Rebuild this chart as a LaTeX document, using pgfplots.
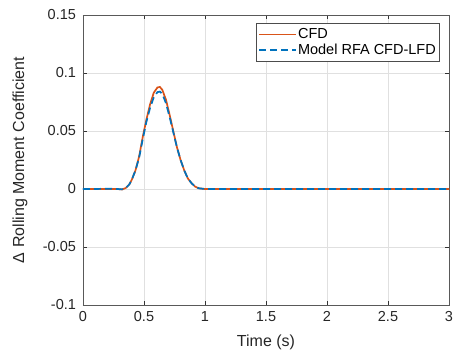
\documentclass[border=0pt]{standalone}
\usepackage{pgfplots}
\pgfplotsset{compat=1.18}
\usepackage{fontspec}
\setmainfont{Liberation Sans}
\definecolor{mlorange}{rgb}{0.850,0.325,0.098}
\definecolor{mlblue}{rgb}{0.000,0.447,0.741}
\begin{document}
\fontsize{14.5}{17}\selectfont
\begin{tikzpicture}
\begin{axis}[
  at={(0,0)}, anchor=south west,
  scale only axis, width=366pt, height=290pt,
  xmin=0, xmax=3, ymin=-0.1, ymax=0.15,
  xtick={0,0.5,...,3}, ytick={-0.1,-0.05,0,0.05,0.1,0.15},
  yticklabels={-0.1,-0.05,0,0.05,0.1,0.15},
  xticklabels={0,0.5,1,1.5,2,2.5,3},
  /pgf/number format/assume math mode=true,
  tick align=inside, tick pos=both,
  major tick length=4pt,
  axis line style={draw=black!65, line width=0.7pt},
  tick style={draw=black!80, line width=0.7pt},
  grid=major, grid style={draw=black!12, line width=0.7pt},
  ticklabel style={font=\fontsize{14.5}{17}\selectfont, text=black!85},
  xticklabel style={yshift=-1pt},
  yticklabel style={xshift=-2pt},
  xlabel={Time (s)}, ylabel={Δ Rolling Moment Coefficient},
  label style={font=\fontsize{16}{19}\selectfont, text=black!85},
  xlabel style={at={(axis description cs:0.5,-0.1276)}, anchor=center},
  ylabel style={at={(axis description cs:-0.172,0.5)}, anchor=center},
  legend style={at={(0.9727,0.972)}, anchor=north east, draw=black!70,
    font=\fontsize{14.5}{17}\selectfont, row sep=-1pt, inner xsep=2pt, inner ysep=3pt,
    nodes={inner xsep=1pt}},
  legend cell align=left,
  legend image code/.code={\draw[#1, line width=1.8pt] plot coordinates {(0pt,0pt) (18pt,0pt) (37pt,0pt)};},
]
\addplot[mlorange, line width=1.7pt] coordinates {
(0,0) (0.1,0) (0.2,0) (0.28,0) (0.32,-0.0004) (0.35,0.0008) (0.38,0.004) (0.40,0.008)
(0.43,0.016) (0.46,0.028) (0.49,0.045) (0.52,0.060) (0.55,0.073) (0.58,0.083)
(0.61,0.0875) (0.63,0.088) (0.65,0.0855) (0.68,0.077) (0.71,0.064) (0.74,0.050)
(0.77,0.036) (0.80,0.025) (0.83,0.016) (0.86,0.009) (0.89,0.005) (0.92,0.002)
(0.95,0.0006) (1.0,0) (1.5,0) (2,0) (2.5,0) (3,0)};
\addlegendentry{CFD}
\addplot[mlblue, line width=1.7pt, dash pattern=on 7pt off 4pt] coordinates {
(0,0) (0.1,0) (0.2,0.0003) (0.28,0) (0.32,-0.0003) (0.35,0.0008) (0.38,0.004) (0.40,0.008)
(0.43,0.016) (0.46,0.027) (0.49,0.043) (0.52,0.058) (0.55,0.070) (0.58,0.079)
(0.61,0.0835) (0.63,0.084) (0.65,0.082) (0.68,0.074) (0.71,0.062) (0.74,0.049)
(0.77,0.036) (0.80,0.025) (0.83,0.016) (0.86,0.009) (0.89,0.005) (0.92,0.002)
(0.95,0.0006) (1.0,0) (1.5,0) (2,0) (2.5,0) (3,0)};
\addlegendentry{Model RFA CFD-LFD}
\end{axis}
\pgfresetboundingbox
\path[use as bounding box] (-83pt,-46pt) rectangle (370pt,305pt);
\end{tikzpicture}
\end{document}
